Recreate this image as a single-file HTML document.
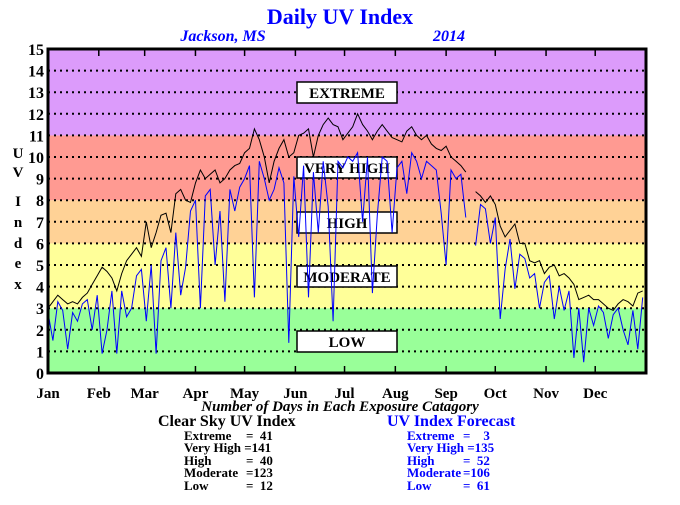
<!DOCTYPE html>
<html><head><meta charset="utf-8"><style>
body{margin:0;background:#fff;width:680px;height:500px;overflow:hidden;font-family:"Liberation Serif",serif}
svg text{font-family:"Liberation Serif",serif;font-weight:bold;white-space:pre}
</style></head><body>
<svg id="chart" width="680" height="500" xmlns="http://www.w3.org/2000/svg" xml:space="preserve">
<text x="340" y="24" text-anchor="middle" font-size="22" fill="#0000ff">Daily UV Index</text>
<text x="223" y="41" text-anchor="middle" font-size="16" font-style="italic" fill="#0000ff">Jackson, MS</text>
<text x="449" y="41" text-anchor="middle" font-size="16" font-style="italic" fill="#0000ff">2014</text>
<g id="bands"></g>
<g id="grid"></g>
<g id="boxes"></g>
<g id="series"></g>
<g id="axes"></g>
<g font-size="15" text-anchor="middle">
<text x="18" y="158">U</text><text x="18" y="177">V</text><text x="18" y="206">I</text><text x="18" y="227">n</text><text x="18" y="248">d</text><text x="18" y="268">e</text><text x="18" y="289">x</text>
</g>
<text x="340" y="411" text-anchor="middle" font-size="15" font-style="italic">Number of Days in Each Exposure Catagory</text>
<g font-size="13">
<text x="158" y="426" font-size="16">Clear Sky UV Index</text>
<text x="184" y="440">Extreme</text><text x="246" y="440">=  41</text>
<text x="184" y="452">Very High =141</text>
<text x="184" y="465">High</text><text x="246" y="465">=  40</text>
<text x="184" y="477">Moderate</text><text x="246" y="477">=123</text>
<text x="184" y="490">Low</text><text x="246" y="490">=  12</text>
</g>
<g font-size="13" fill="#0000ff">
<text x="387" y="426" font-size="16">UV Index Forecast</text>
<text x="407" y="440">Extreme</text><text x="463" y="440">=    3</text>
<text x="407" y="452">Very High =135</text>
<text x="407" y="465">High</text><text x="463" y="465">=  52</text>
<text x="407" y="477">Moderate</text><text x="463" y="477">=106</text>
<text x="407" y="490">Low</text><text x="463" y="490">=  61</text>
</g>
</svg>
<script>
const clearSky=[3.0,3.3,3.6,3.4,3.2,3.3,3.2,3.5,3.7,4.1,4.5,4.9,4.7,4.4,3.8,4.6,5.2,5.5,5.8,5.4,7.0,5.8,6.5,7.3,7.4,6.5,8.3,8.5,8.0,7.9,8.8,9.4,9.0,9.2,9.4,8.8,9.0,9.4,9.6,9.7,10.2,10.4,11.3,10.8,10.0,8.8,9.8,10.4,10.8,10.0,10.2,11.0,11.1,11.3,10.0,11.0,11.5,11.8,11.5,11.4,10.8,11.1,11.4,12.0,11.5,11.2,10.8,11.2,11.5,11.2,10.9,10.8,10.7,11.2,11.4,11.0,10.8,11.0,10.6,10.4,10.3,10.5,10.0,9.8,9.6,9.3,null,8.4,8.2,7.9,8.2,7.8,6.8,6.3,6.6,6.9,6.0,6.0,5.2,5.1,5.2,4.6,4.9,5.0,4.5,4.6,4.4,4.1,3.4,3.5,3.6,3.4,3.4,3.2,3.0,2.9,3.2,3.4,3.3,3.1,3.7,3.8];
const forecast=[2.8,1.5,3.3,2.9,1.1,2.8,2.4,3.2,3.4,2.0,3.6,0.9,2.0,3.8,0.9,3.8,2.6,3.0,4.5,4.8,2.4,5.0,0.9,5.2,5.8,3.0,6.5,3.6,4.9,7.5,8.0,3.0,8.2,8.5,5.0,7.5,3.3,8.5,7.5,8.6,9.0,9.6,3.5,9.8,9.0,8.0,8.5,9.5,8.8,1.4,9.1,6.3,9.6,3.5,9.3,6.5,9.8,7.7,2.4,9.8,9.5,10.0,9.8,10.2,7.0,10.0,3.7,7.3,10.0,9.8,6.5,9.5,9.8,8.3,10.2,9.8,9.0,9.8,9.6,9.4,7.4,5.0,9.4,9.0,9.2,7.2,null,5.9,7.8,7.6,6.0,7.2,2.5,4.8,6.2,3.9,5.5,5.3,4.4,4.6,3.0,4.2,4.5,2.5,4.0,2.9,3.8,0.7,3.0,0.5,3.0,2.2,3.1,2.8,1.6,2.7,3.0,2.0,1.3,2.9,1.1,3.5];
const dayStep=3;
const monthNames=["Jan","Feb","Mar","Apr","May","Jun","Jul","Aug","Sep","Oct","Nov","Dec"];
const monthStarts=[0,31,59,90,120,151,181,212,243,273,304,334];
const yTicks=[0,1,2,3,4,5,6,7,8,9,10,11,12,13,14,15];
const bandLimits=[0,3,6,8,11,15];
const bandColors=["#99ff99","#ffff99","#ffd296","#ff9a92","#dc9bfb"];
const categories=["LOW","MODERATE","HIGH","VERY HIGH","EXTREME"];
const categoryBoxTops=[331,266,212,157,82];

const L=48,R=646,T=49,B=373;
const NS="http://www.w3.org/2000/svg";
const x=d=>L+d*(R-L)/365;
const y=v=>B-v*(B-T)/15;
function mk(tag,attrs,parent){const e=document.createElementNS(NS,tag);for(const k in attrs)e.setAttribute(k,attrs[k]);parent.appendChild(e);return e;}
const bands=document.getElementById('bands'),grid=document.getElementById('grid'),boxes=document.getElementById('boxes'),series=document.getElementById('series'),axes=document.getElementById('axes');
for(let i=0;i<bandColors.length;i++){
  const r=mk('rect',{x:L,y:y(bandLimits[i+1]),width:R-L,height:y(bandLimits[i])-y(bandLimits[i+1]),fill:bandColors[i]},bands);
  
  
}
yTicks.forEach(t=>{
  if(t>0&&t<15){const l=mk('line',{x1:L,x2:R,y1:y(t),y2:y(t),stroke:'#000','stroke-width':2,'stroke-dasharray':'2 4'},grid);
  
  }
  const tx=mk('text',{x:44,y:y(t)+6,'text-anchor':'end','font-size':16},axes);tx.textContent=t;
  
  
});
categories.forEach((c,i)=>{
  const g=mk('g',{},boxes);
  
  
  mk('rect',{x:297,y:categoryBoxTops[i],width:100,height:21,fill:'#fff',stroke:'#000','stroke-width':1.5},g);
  const t=mk('text',{x:347,y:categoryBoxTops[i]+16,'text-anchor':'middle','font-size':15},g);t.textContent=c;
});
function drawLine(arr,color,name){
  let d='',pen=false;
  arr.forEach((v,i)=>{if(v===null){pen=false;return;}d+=(pen?'L':'M')+x(i*dayStep).toFixed(1)+' '+y(v).toFixed(1)+' ';pen=true;});
  const p=mk('path',{d:d,fill:'none',stroke:color,'stroke-width':1},series);
  
  
}
drawLine(clearSky,'#000','clear-sky-line');
drawLine(forecast,'#0000ff','forecast-line');
mk('rect',{x:L,y:T,width:R-L,height:B-T,fill:'none',stroke:'#000','stroke-width':3},axes);
monthStarts.forEach((m,i)=>{
  if(i>0){mk('line',{x1:x(m),x2:x(m),y1:T,y2:T+7,stroke:'#000','stroke-width':1.5},axes);
  mk('line',{x1:x(m),x2:x(m),y1:B,y2:B-7,stroke:'#000','stroke-width':1.5},axes);}
  const t=mk('text',{x:x(m),y:398,'text-anchor':'middle','font-size':15},axes);t.textContent=monthNames[i];
  
  
});
</script>
</body></html>
